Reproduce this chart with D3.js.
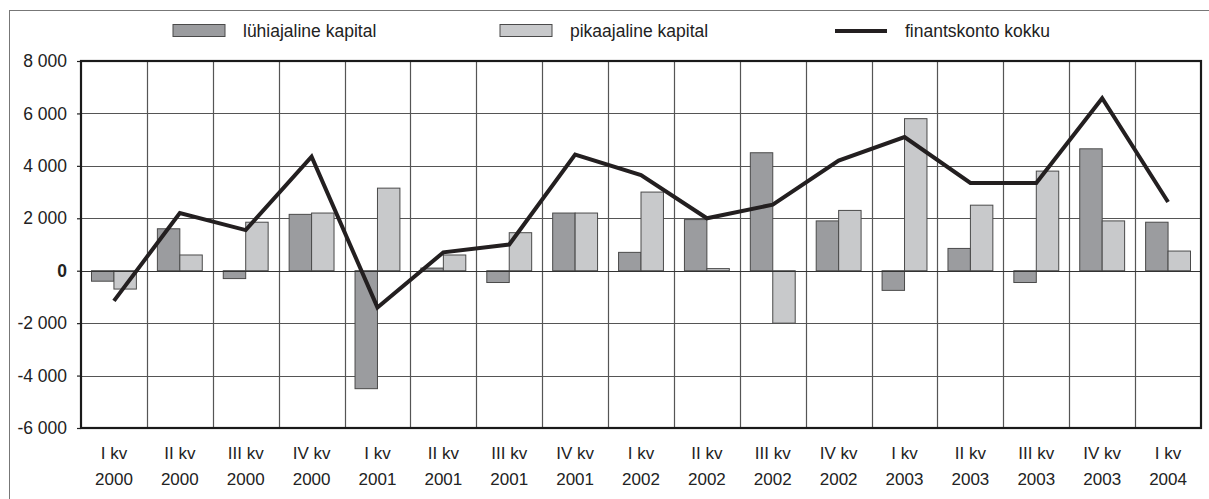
<!DOCTYPE html>
<html>
<head>
<meta charset="utf-8" />
<title>Finantskonto</title>
<script src="https://d3js.org/d3.v7.min.js"></script>
<style>
  body { margin: 0; background: #fff; }
  svg { display: block; font-family: "Liberation Sans", Arial, sans-serif; }
</style>
</head>
<body>
<div id="chart"></div>
<script>
// quarters and years (x axis, two lines)
const quarters = ["I kv", "II kv", "III kv", "IV kv", "I kv", "II kv", "III kv", "IV kv",
  "I kv", "II kv", "III kv", "IV kv", "I kv", "II kv", "III kv", "IV kv", "I kv"];
const years = ["2000", "2000", "2000", "2000", "2001", "2001", "2001", "2001",
  "2002", "2002", "2002", "2002", "2003", "2003", "2003", "2003", "2004"];

// series values
const luhiajaline = [-400, 1600, -300, 2150, -4500, 100, -450, 2200, 700, 1950, 4500, 1900, -750, 850, -450, 4650, 1850];
const pikaajaline = [-700, 600, 1850, 2200, 3150, 600, 1450, 2200, 3000, 80, -2000, 2300, 5800, 2500, 3800, 1900, 750];
const kokku = [-1150, 2200, 1550, 4350, -1400, 700, 1000, 4430, 3650, 2000, 2520, 4200, 5100, 3350, 3350, 6580, 2620];

const yTicks = [-6000, -4000, -2000, 0, 2000, 4000, 6000, 8000];
const seriesNames = ["lühiajaline kapital", "pikaajaline kapital", "finantskonto kokku"];

const W = 1209, H = 499;
const m = { left: 81, right: 8, top: 61, bottom: 71 };
const iw = W - m.left - m.right, ih = H - m.top - m.bottom;

const svg = d3.select("#chart").append("svg").attr("width", W).attr("height", H);

// outer frame
svg.append("rect").attr("x", 9.5).attr("y", 10.5).attr("width", W + 10).attr("height", H + 10)
  .attr("fill", "none").attr("stroke", "#777").attr("stroke-width", 1);

const g = svg.append("g").attr("transform", `translate(${m.left},${m.top})`);

const x = d3.scaleBand().domain(d3.range(quarters.length)).range([0, iw]);
const y = d3.scaleLinear().domain([-6000, 8000]).range([ih, 0]);
const xs = d3.scaleBand().domain([0, 1]).range([10.5, x.bandwidth() - 10.5]);

const fmt = v => d3.format(",")(v).replace(/,/g, " ").replace("−", "-");

// horizontal grid
g.append("g").selectAll("line").data(yTicks).join("line")
  .attr("x1", 0).attr("x2", iw)
  .attr("y1", d => Math.round(y(d)) + 0.5).attr("y2", d => Math.round(y(d)) + 0.5)
  .attr("stroke", "#555").attr("stroke-width", 1.2);

// vertical grid at band edges
g.append("g").selectAll("line").data(d3.range(1, quarters.length)).join("line")
  .attr("x1", d => Math.round(x(d)) + 0.5).attr("x2", d => Math.round(x(d)) + 0.5)
  .attr("y1", 0).attr("y2", ih)
  .attr("stroke", "#555").attr("stroke-width", 1.2);

// y axis
const yAxis = g.append("g").call(d3.axisLeft(y).tickValues(yTicks).tickFormat(fmt).tickSize(4).tickPadding(10));
yAxis.select(".domain").remove();
yAxis.selectAll("line").attr("stroke", "#222").attr("stroke-width", 1.2);
yAxis.selectAll("text").attr("font-size", 17.5).attr("fill", "#222")
  .attr("font-family", "Liberation Sans, Arial, sans-serif")
  .attr("font-weight", d => d === 0 ? "bold" : "normal");

// bars
const barData = [luhiajaline, pikaajaline];
const fills = ["#9b9c9f", "#c8c9cb"];
barData.forEach((vals, s) => {
  g.append("g").selectAll("rect").data(vals).join("rect")
    .attr("x", (d, i) => x(i) + xs(s))
    .attr("width", xs.bandwidth())
    .attr("y", d => y(Math.max(0, d)))
    .attr("height", d => Math.abs(y(d) - y(0)))
    .attr("fill", fills[s]).attr("stroke", "#4a4a4a").attr("stroke-width", 1);
});

// zero line on top of bars
g.append("line").attr("x1", 0).attr("x2", iw)
  .attr("y1", Math.round(y(0)) + 0.5).attr("y2", Math.round(y(0)) + 0.5)
  .attr("stroke", "#333").attr("stroke-width", 1.2);

// total line
const line = d3.line().x((d, i) => x(i) + x.bandwidth() / 2).y(d => y(d));
g.append("path").datum(kokku).attr("d", line)
  .attr("fill", "none").attr("stroke", "#231f20").attr("stroke-width", 4).attr("stroke-linejoin", "miter");

// plot frame
g.append("rect").attr("x", 0).attr("y", 0).attr("width", iw).attr("height", ih)
  .attr("fill", "none").attr("stroke", "#1a1a1a").attr("stroke-width", 2.2);

// x labels
const xl = g.append("g").selectAll("g").data(quarters).join("g")
  .attr("transform", (d, i) => `translate(${x(i) + x.bandwidth() / 2},${ih})`);
xl.append("text").attr("y", 31).attr("text-anchor", "middle").attr("font-size", 17).attr("fill", "#222").text(d => d);
xl.append("text").attr("y", 57).attr("text-anchor", "middle").attr("font-size", 17).attr("fill", "#222").text((d, i) => years[i]);

// legend
const leg = svg.append("g");
const legX = [173, 500, 835];
[0, 1].forEach(s => {
  leg.append("rect").attr("x", legX[s]).attr("y", 24.5).attr("width", 52).attr("height", 12)
    .attr("fill", fills[s]).attr("stroke", "#4a4a4a").attr("stroke-width", 1);
});
leg.append("line").attr("x1", legX[2]).attr("x2", legX[2] + 52).attr("y1", 31).attr("y2", 31)
  .attr("stroke", "#231f20").attr("stroke-width", 4);
seriesNames.forEach((n, s) => {
  leg.append("text").attr("x", legX[s] + 70).attr("y", 37).attr("font-size", 17.5).attr("fill", "#222").text(n);
});
</script>
</body>
</html>
